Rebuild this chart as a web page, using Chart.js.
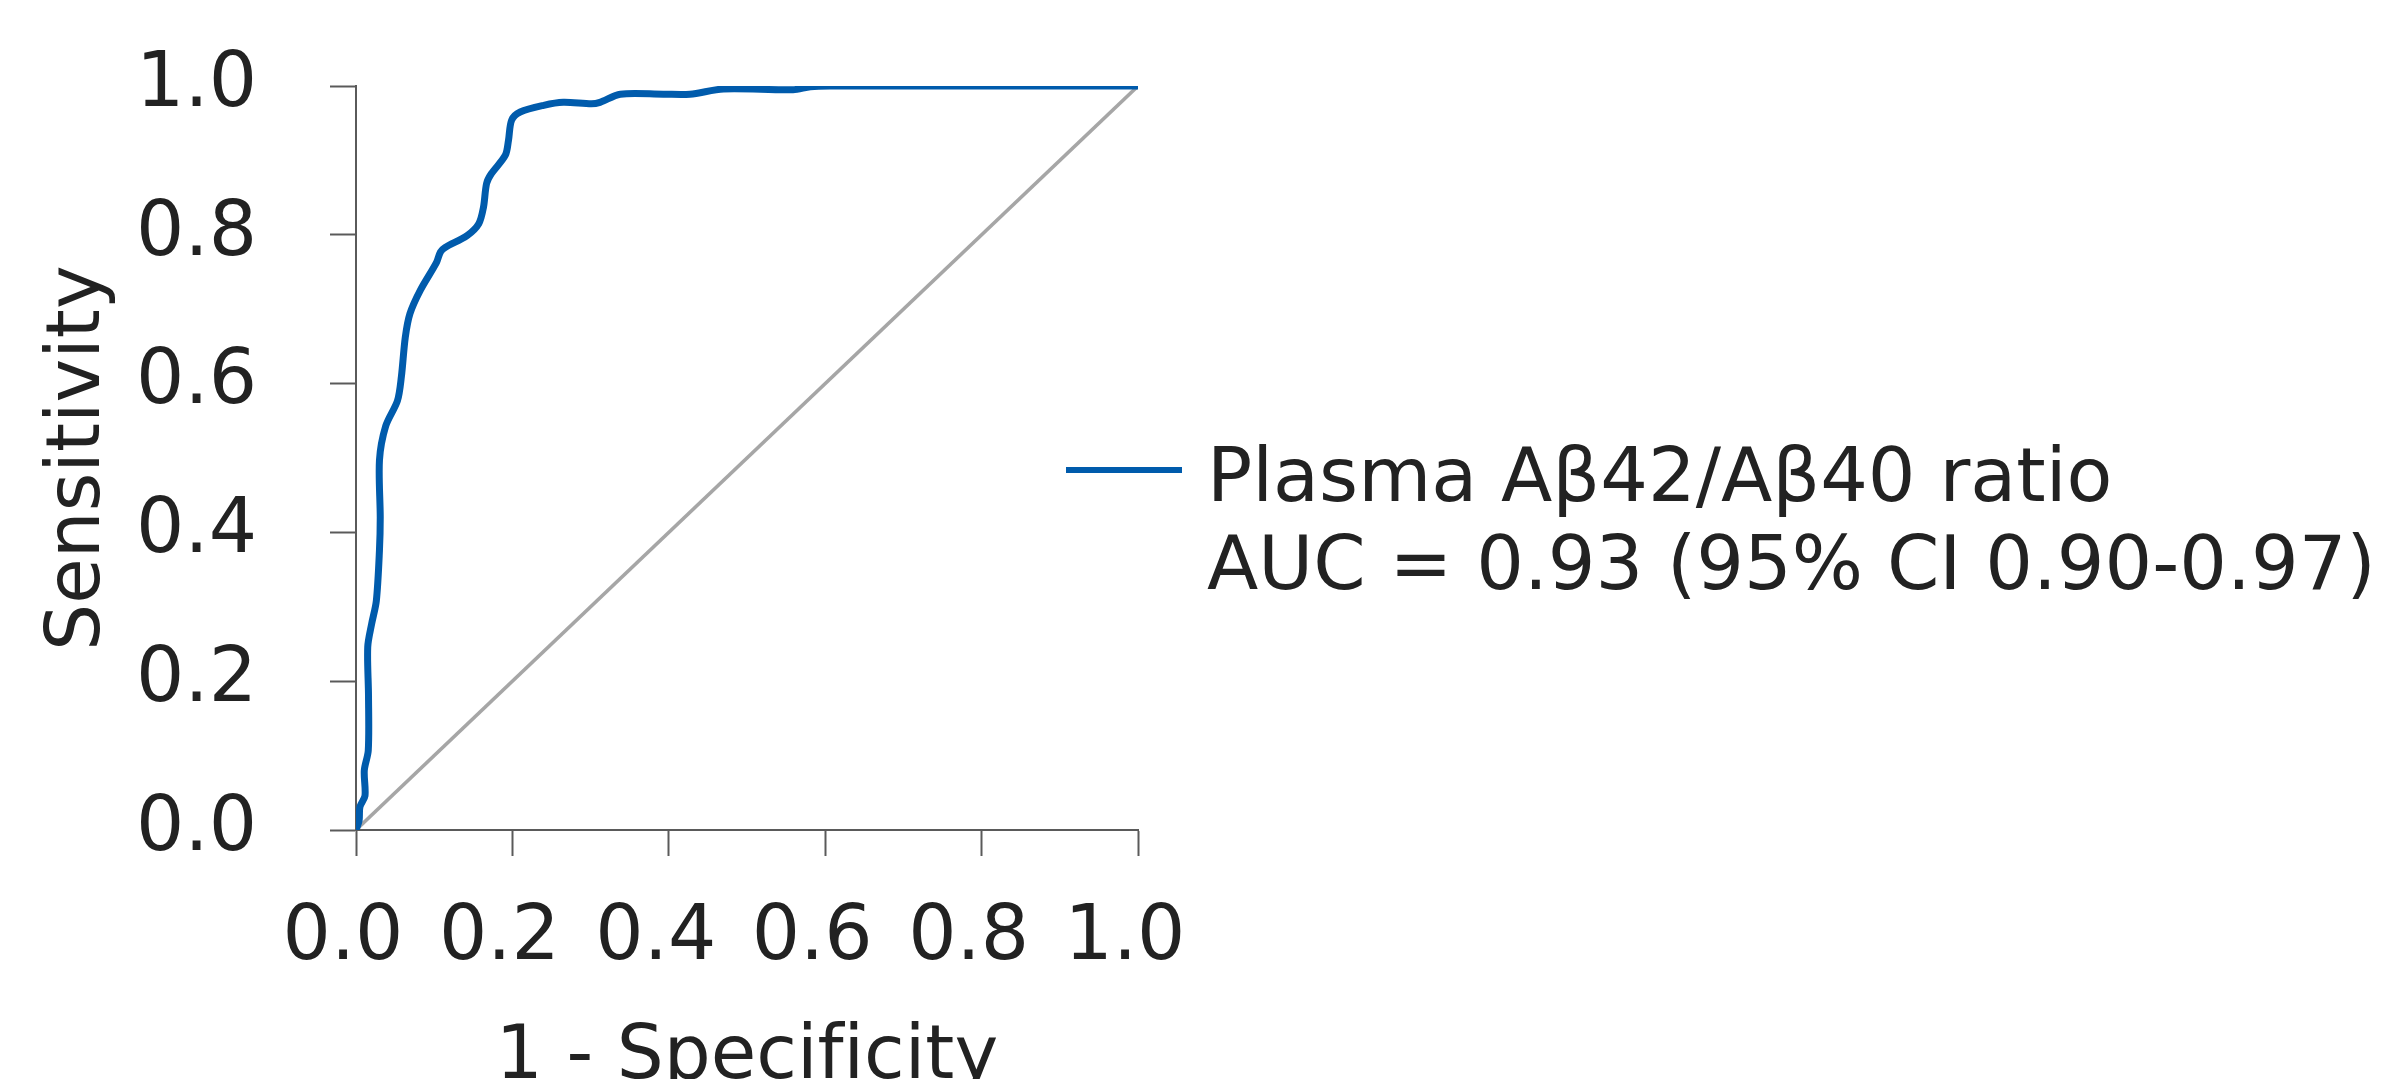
<!DOCTYPE html>
<html>
<head>
<meta charset="utf-8">
<script src="https://cdn.jsdelivr.net/npm/chart.js@4.4.1/dist/chart.umd.min.js"></script>
<style>
  html, body { margin: 0; padding: 0; background: #ffffff; overflow: hidden; }
  #wrap { width: 2405px; height: 1079px; overflow: hidden; }
  canvas { display: block; font-variant-ligatures: none; }
</style>
</head>
<body>
<div id="wrap"><canvas id="c" width="2405" height="1120"></canvas></div>
<script>
// ---- data ----
const rocFpr = [0, 0.004, 0.005, 0.0115, 0.0106, 0.0157, 0.016, 0.015, 0.020, 0.026, 0.030, 0.031, 0.030, 0.038, 0.053, 0.058, 0.063, 0.069, 0.082, 0.103, 0.108, 0.114, 0.142, 0.157, 0.163, 0.167, 0.173, 0.191, 0.195, 0.199, 0.210, 0.240, 0.265, 0.301, 0.312, 0.338, 0.393, 0.427, 0.470, 0.559, 0.581, 0.606, 1.0];
const rocTpr = [0, 0.013, 0.031, 0.046, 0.080, 0.107, 0.180, 0.246, 0.277, 0.308, 0.376, 0.420, 0.497, 0.543, 0.577, 0.609, 0.662, 0.694, 0.725, 0.763, 0.777, 0.783, 0.799, 0.815, 0.837, 0.869, 0.882, 0.907, 0.927, 0.954, 0.965, 0.974, 0.978, 0.976, 0.978, 0.989, 0.989, 0.989, 0.996, 0.995, 0.999, 1.0, 1.0];
const refFpr = [0, 1];
const refTpr = [0, 1];
const xTicks = [0, 0.2, 0.4, 0.6, 0.8, 1.0];
const yTicks = [0, 0.2, 0.4, 0.6, 0.8, 1.0];
const seriesName = "Plasma Aβ42/Aβ40 ratio";
const legendLines = ["Plasma Aβ42/Aβ40 ratio", "AUC = 0.93 (95% CI 0.90-0.97)"];
const xTitle = "1 - Specificity";
const yTitle = "Sensitivity";

const rocPoints = rocFpr.map((x, i) => ({ x: x, y: rocTpr[i] }));
const refPoints = refFpr.map((x, i) => ({ x: x, y: refTpr[i] }));

const FONT = "'DejaVu Sans', Verdana, sans-serif";
const TEXT = '#222222';
const AXIS = '#5a5a5a';

const noLigatures = {
  id: 'noLigatures',
  beforeDraw(chart) {
    if ('letterSpacing' in chart.ctx) chart.ctx.letterSpacing = '0.01px';
  }
};

const legendPlugin = {
  id: 'sideLegend',
  afterDraw(chart) {
    const ctx = chart.ctx;
    const ds = chart.data.datasets[0];
    ctx.save();
    ctx.strokeStyle = ds.borderColor;
    ctx.lineWidth = 6;
    ctx.beginPath();
    ctx.moveTo(1066, 470);
    ctx.lineTo(1182, 470);
    ctx.stroke();
    ctx.fillStyle = TEXT;
    ctx.font = "75px " + FONT;
    ctx.textAlign = 'left';
    ctx.textBaseline = 'alphabetic';
    legendLines.forEach((t, i) => ctx.fillText(t, 1207, 501 + i * 87.6));
    ctx.restore();
  }
};

new Chart(document.getElementById('c'), {
  type: 'line',
  data: {
    datasets: [
      {
        label: seriesName,
        data: rocPoints,
        borderColor: '#005BAC',
        borderWidth: 7,
        pointRadius: 0,
        tension: 0.3,
        fill: false
      },
      {
        label: 'Reference',
        data: refPoints,
        borderColor: '#a6a6a6',
        borderWidth: 3.5,
        pointRadius: 0,
        tension: 0,
        fill: false
      }
    ]
  },
  options: {
    responsive: false,
    devicePixelRatio: 1,
    animation: false,
    events: [],
    layout: { padding: { left: 0, top: 86, right: 1267, bottom: 0 } },
    plugins: {
      legend: { display: false },
      tooltip: { enabled: false }
    },
    scales: {
      x: {
        type: 'linear',
        min: 0,
        max: 1,
        afterFit(scale) { scale.height = 290; scale.paddingLeft = 0; scale.paddingRight = 0; },
        afterBuildTicks(scale) { scale.ticks = xTicks.map(v => ({ value: v })); },
        ticks: {
          color: TEXT,
          font: { family: FONT, size: 76, lineHeight: 1 },
          padding: 45,
          labelOffset: -13,
          maxRotation: 0,
          callback: v => v.toFixed(1)
        },
        grid: { drawOnChartArea: false, drawTicks: true, tickLength: 26, tickColor: AXIS, tickWidth: 2 },
        border: { display: true, color: AXIS, width: 2 },
        title: {
          display: true,
          text: xTitle,
          color: TEXT,
          font: { family: FONT, size: 74, lineHeight: 1 },
          padding: { top: 0, bottom: 24 }
        }
      },
      y: {
        type: 'linear',
        min: 0,
        max: 1,
        afterFit(scale) { scale.width = 356; scale.paddingTop = 0; scale.paddingBottom = 0; },
        afterBuildTicks(scale) { scale.ticks = yTicks.map(v => ({ value: v })); },
        ticks: {
          color: TEXT,
          font: { family: FONT, size: 76, lineHeight: 1 },
          padding: 73,
          callback: v => v.toFixed(1)
        },
        grid: { drawOnChartArea: false, drawTicks: true, tickLength: 26, tickColor: AXIS, tickWidth: 2 },
        border: { display: true, color: AXIS, width: 2 },
        title: {
          display: true,
          text: yTitle,
          color: TEXT,
          font: { family: FONT, size: 74, lineHeight: 1 },
          padding: { top: 43, bottom: 0 }
        }
      }
    }
  },
  plugins: [noLigatures, legendPlugin]
});
</script>
</body>
</html>
